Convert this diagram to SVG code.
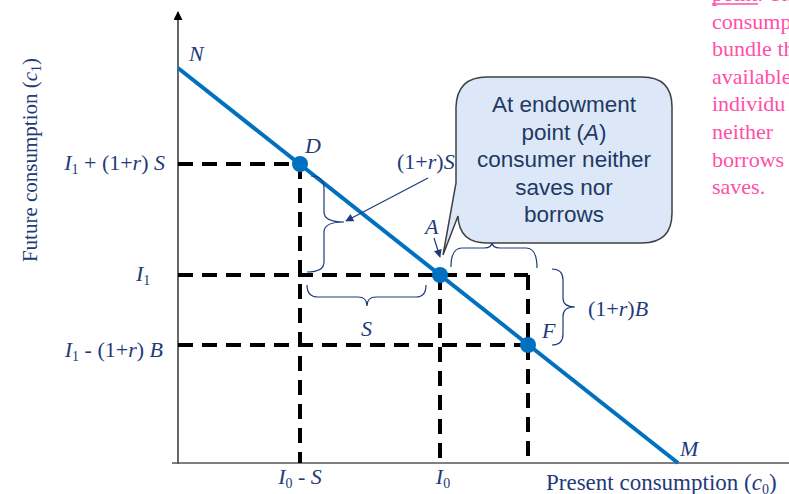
<svg xmlns="http://www.w3.org/2000/svg" width="789" height="494" viewBox="0 0 789 494">
<defs>
<style>
.lbl{font-family:"Liberation Serif","Times New Roman",serif;font-size:22px;fill:#1F3A7A}
.it{font-style:italic}
.sub{font-size:14px}
.pink{font-family:"Liberation Serif","Times New Roman",serif;font-size:22px;fill:#FF4FA8}
.dash{stroke:#000;stroke-width:4;stroke-dasharray:15 9;fill:none}
.brace{stroke:#1F3A7A;stroke-width:1.2;fill:none}
.dot{fill:#0070C0}
.call{font-family:"Liberation Sans",Arial,sans-serif;font-size:22.5px;fill:#1F3864;text-anchor:middle}
</style>
<marker id="axhead" viewBox="0 0 10 10" refX="9" refY="5" markerWidth="9" markerHeight="9" orient="auto" markerUnits="userSpaceOnUse"><path d="M0,0 L10,5 L0,10 Z" fill="#000"/></marker>
<marker id="navyhead" viewBox="0 0 10 10" refX="9" refY="5" markerWidth="9" markerHeight="8" orient="auto" markerUnits="userSpaceOnUse"><path d="M0,0 L10,5 L0,10 Z" fill="#1F3A7A"/></marker>
</defs>
<rect width="789" height="494" fill="#fff"/>

<!-- side note (clipped at the picture edge, as in the reference) -->
<g id="note">
<text class="pink" x="712" y="1">point:  The</text>
<line x1="712" y1="4" x2="758" y2="4" stroke="#FF4FA8" stroke-width="1.5"/>
<text class="pink" x="712" y="29">consump</text>
<text class="pink" x="712" y="56">bundle th</text>
<text class="pink" x="712" y="84">available</text>
<text class="pink" x="712" y="111">individu</text>
<text class="pink" x="712" y="139">neither</text>
<text class="pink" x="712" y="167">borrows n</text>
<text class="pink" x="712" y="194">saves.</text>
</g>

<!-- axes -->
<g id="axes">
<line x1="178" y1="464" x2="178" y2="12" stroke="#000" stroke-width="1.2" marker-end="url(#axhead)"/>
<line x1="172" y1="463" x2="789" y2="463" stroke="#555" stroke-width="1.5"/>
<text class="lbl" transform="translate(37,160) rotate(-90)" text-anchor="middle" style="font-size:21px">Future consumption (<tspan class="it">c</tspan><tspan class="sub" dy="4">1</tspan><tspan dy="-4">)</tspan></text>
<text class="lbl" x="546" y="490" style="font-size:23px">Present consumption (<tspan class="it">c</tspan><tspan class="sub" dy="4">0</tspan><tspan dy="-4">)</tspan></text>
</g>

<!-- connectors: dashed guides, budget line, braces, arrows -->
<g id="connectors">
<path class="dash" d="M178,164 H300 M300,164 V463"/>
<path class="dash" d="M178,275 H528 M440,275 V463 M528,275 V345"/>
<path class="dash" d="M178,345 H528 M528,345 V463"/>
<line x1="178" y1="68" x2="678" y2="463" stroke="#0070C0" stroke-width="4"/>
<!-- (1+r)S brace -->
<path class="brace" d="M311,176 Q324,176 324,188 V212 Q324,222 344,222 Q324,222 324,232 V262 Q324,272 307,272"/>
<!-- S brace -->
<path class="brace" d="M307,285 Q307,297 318,297 H358 Q367,297 367,306 Q367,297 376,297 H416 Q426,297 426,285"/>
<!-- B brace (top) -->
<path class="brace" d="M451,267 Q451,248 462,248 H484 Q492,248 492,242 Q492,248 500,248 H526 Q537,248 537,268"/>
<!-- (1+r)B brace -->
<path class="brace" d="M552,269 Q563,269 563,280 V298 Q563,307 575,307 Q563,307 563,316 V334 Q563,345 552,345"/>
<line x1="428" y1="178" x2="346" y2="221" stroke="#1F3A7A" stroke-width="1.2" marker-end="url(#navyhead)"/>
<line x1="434" y1="238" x2="440" y2="257" stroke="#1F3A7A" stroke-width="1.2" marker-end="url(#navyhead)"/>
</g>

<!-- points -->
<g id="point-N"><text class="lbl it" x="189" y="61">N</text></g>
<g id="point-D"><circle class="dot" cx="300" cy="164" r="8"/><text class="lbl it" x="305" y="153">D</text></g>
<g id="point-A"><circle class="dot" cx="440" cy="275" r="8"/><text class="lbl it" x="425" y="234">A</text></g>
<g id="point-F"><circle class="dot" cx="528" cy="345" r="8"/><text class="lbl it" x="542" y="338">F</text></g>
<g id="point-M"><text class="lbl it" x="680" y="456">M</text></g>

<!-- axis value labels -->
<g id="ylabels">
<text class="lbl" x="165" y="170" text-anchor="end"><tspan class="it">I</tspan><tspan class="sub" dy="4">1</tspan><tspan dy="-4"> + (1+</tspan><tspan class="it">r</tspan>) <tspan class="it">S</tspan></text>
<text class="lbl" x="136" y="281"><tspan class="it">I</tspan><tspan class="sub" dy="4">1</tspan></text>
<text class="lbl" x="163" y="357" text-anchor="end"><tspan class="it">I</tspan><tspan class="sub" dy="4">1</tspan><tspan dy="-4"> - (1+</tspan><tspan class="it">r</tspan>) <tspan class="it">B</tspan></text>
</g>
<g id="xlabels">
<text class="lbl" x="300" y="484" text-anchor="middle"><tspan class="it">I</tspan><tspan class="sub" dy="4">0</tspan><tspan dy="-4"> - </tspan><tspan class="it">S</tspan></text>
<text class="lbl" x="443" y="484" text-anchor="middle"><tspan class="it">I</tspan><tspan class="sub" dy="4">0</tspan></text>
</g>
<g id="brace-labels">
<text class="lbl" x="397" y="169">(1+<tspan class="it">r</tspan>)<tspan class="it">S</tspan></text>
<text class="lbl it" x="361" y="336">S</text>
<text class="lbl" x="588" y="316">(1+<tspan class="it">r</tspan>)<tspan class="it">B</tspan></text>
</g>

<!-- callout -->
<g id="callout">
<path d="M487,77 H642 Q672,77 672,107 V213 Q672,243 642,243 H487 Q459,243 458,216 L443,255 L456,183 V107 Q457,77 487,77 Z" fill="#DCE8F8" stroke="#404040" stroke-width="1.5"/>
<text class="call" x="564" y="112">At endowment</text>
<text class="call" x="564" y="140">point (<tspan font-style="italic">A</tspan>)</text>
<text class="call" x="564" y="167">consumer neither</text>
<text class="call" x="564" y="195">saves nor</text>
<text class="call" x="564" y="222">borrows</text>
</g>
</svg>
